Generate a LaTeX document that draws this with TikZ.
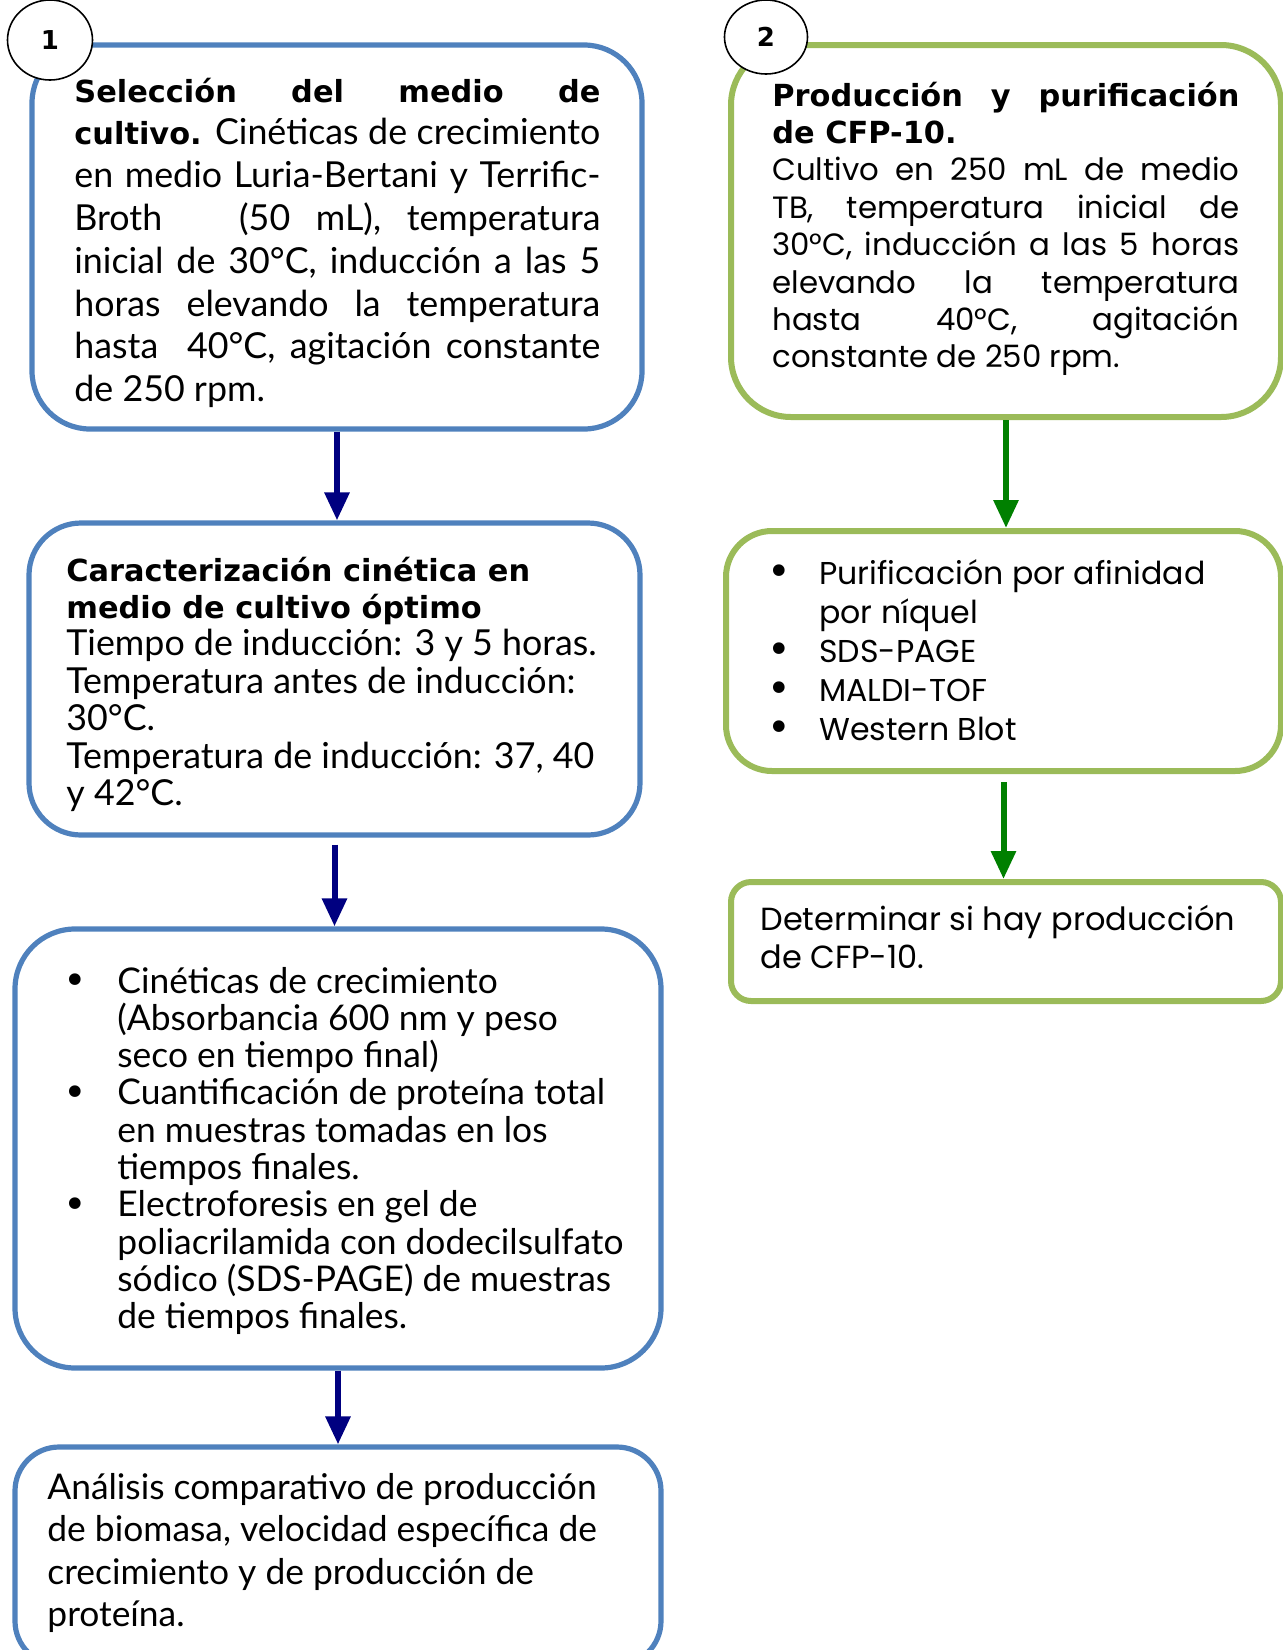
\documentclass[tikz,border=0pt]{standalone}
\usepackage{fontspec}
\setmainfont{Lato}
\newfontfamily\gothic{Poppins}
\newfontfamily\headfont{DejaVu Sans}
\usetikzlibrary{shapes.geometric,arrows.meta}

\definecolor{boxblue}{HTML}{4F81BD}
\definecolor{boxgreen}{HTML}{9BBB59}
\definecolor{arrowblue}{HTML}{000080}
\definecolor{arrowgreen}{HTML}{008000}

% natural spaces, justified line, bullet
\newcommand{\nsp}{\spaceskip=0pt\xspaceskip=0pt}
\newcommand{\jline}[1]{\makebox[\linewidth][s]{#1}\\}
\newcommand{\bul}[1]{\makebox[#1][l]{\raisebox{-0.8pt}{\headfont\fontsize{20}{20}\selectfont •}}}
\newcommand{\hb}{\headfont\bfseries\fontsize{15.2}{18}\selectfont}

\begin{document}
\begin{tikzpicture}[x=0.5pt,y=-0.5pt,
	bluebox/.style={draw=boxblue, line width=2.6pt, rounded corners=#1, inner sep=0pt},
	greenbox/.style={draw=boxgreen, line width=3pt, rounded corners=#1, inner sep=0pt},
	boxtext/.style={anchor=base west, inner sep=0pt, align=left, text width=#1},
	numcircle/.style={draw, ellipse, fill=white, line width=0.8pt, inner sep=0pt,
		font=\headfont\bfseries\fontsize{13}{15}\selectfont},
	bluearrow/.style={draw=arrowblue, line width=3pt, -{Triangle[length=14pt,width=12pt]}},
	greenarrow/.style={draw=arrowgreen, line width=3pt, -{Triangle[length=14pt,width=12pt]}}]
	\useasboundingbox (0,0) rectangle (1283,1650);

	% left column
	\node[bluebox=29pt, minimum width=305pt, minimum height=192pt] (sel) at (337,237) {};
	\node[bluebox=26pt, minimum width=305.5pt, minimum height=156pt] (car) at (334.5,679) {};
	\node[bluebox=30pt, minimum width=323pt, minimum height=219.5pt] (kin) at (338,1148.5) {};
	\node[bluebox=22pt, minimum width=323pt, minimum height=109pt] (ana) at (338,1556) {};

	% right column
	\node[greenbox=30pt, minimum width=275pt, minimum height=186pt] (prod) at (1006,231) {};
	\node[greenbox=23pt, minimum width=277.5pt, minimum height=120pt] (pur) at (1003.5,651) {};
	\node[greenbox=10pt, minimum width=275pt, minimum height=59.5pt] (det) at (1006,941.5) {};

	\node[numcircle, minimum width=42.5pt, minimum height=40pt] (n1) at (50,40) {1};
	\node[numcircle, minimum width=41.5pt, minimum height=37pt] (n2) at (766,37) {2};

	\node[boxtext=263pt, font=\fontsize{17.9}{21.4}\selectfont] (selt) at (74,102) {\nsp
		\jline{{\hb Selección del medio de}}
		\jline{{\hb cultivo.} Cinéticas de crecimiento}
		\jline{en medio Luria-Bertani y Terrific-}
		\jline{Broth\ \ \ (50 mL), temperatura}
		\jline{inicial de 30°C, inducción a las 5}
		\jline{horas elevando la temperatura}
		\jline{hasta\ \ 40°C, agitación constante}
		de 250 rpm.};

	\node[boxtext=300pt, font=\fontsize{17.9}{18.7}\selectfont] (cart) at (66,581) {\nsp
		{\hb Caracterización cinética en}\\
		{\hb medio de cultivo óptimo}\\
		Tiempo de inducción: 3 y 5 horas.\\
		Temperatura antes de inducción:\\
		30°C.\\
		Temperatura de inducción: 37, 40\\
		y 42°C.};

	\node[boxtext=300pt, font=\fontsize{17.7}{18.65}\selectfont] (kint) at (63,993) {\nsp
		\bul{27pt}Cinéticas de crecimiento\\
		\hspace*{27pt}(Absorbancia 600 nm y peso\\
		\hspace*{27pt}seco en tiempo final)\\
		\bul{27pt}Cuantificación de proteína total\\
		\hspace*{27pt}en muestras tomadas en los\\
		\hspace*{27pt}tiempos finales.\\
		\bul{27pt}Electroforesis en gel de\\
		\hspace*{27pt}poliacrilamida con dodecilsulfato\\
		\hspace*{27pt}sódico (SDS-PAGE) de muestras\\
		\hspace*{27pt}de tiempos finales.};

	\node[boxtext=300pt, font=\fontsize{17.7}{21.3}\selectfont] (anat) at (47,1499) {\nsp
		Análisis comparativo de producción\\
		de biomasa, velocidad específica de\\
		crecimiento y de producción de\\
		proteína.};

	\node[boxtext=233.5pt, font=\gothic\fontsize{15.4}{18.7}\selectfont] (prodt) at (772,106) {\nsp
		\jline{{\hb Producción y purificación}}
		{\hb de CFP-10.}\\
		\jline{Cultivo en 250 mL de medio}
		\jline{TB, temperatura inicial de}
		\jline{30°C, inducción a las 5 horas}
		\jline{elevando la temperatura}
		\jline{hasta 40°C, agitación}
		constante de 250 rpm.};

	\node[boxtext=270pt, font=\gothic\fontsize{15.8}{19.5}\selectfont] (purt) at (767,584) {\nsp
		\bul{26pt}Purificación por afinidad\\
		\hspace*{26pt}por níquel\\
		\bul{26pt}SDS-PAGE\\
		\bul{26pt}MALDI-TOF\\
		\bul{26pt}Western Blot};

	\node[boxtext=265pt, font=\gothic\fontsize{16}{19}\selectfont] (dett) at (760,930) {\nsp
		Determinar si hay producción\\
		de CFP-10.};

	% arrows
	\draw[bluearrow] (sel.south) -- (sel.south |- car.north);
	\draw[bluearrow, shorten <=3.5pt] (car.south) -- (car.south |- kin.north);
	\draw[bluearrow] (kin.south) -- (kin.south |- ana.north);
	\draw[greenarrow] (prod.south) -- (prod.south |- pur.north);
	\draw[greenarrow, shorten <=4pt] (pur.south) -- (pur.south |- det.north);
\end{tikzpicture}
\end{document}
